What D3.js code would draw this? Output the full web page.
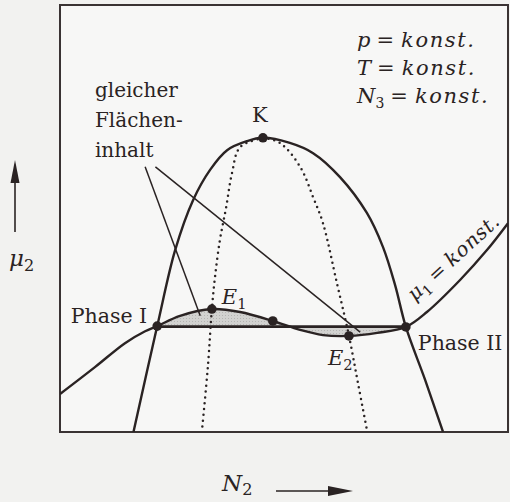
<!DOCTYPE html>
<html>
<head>
<meta charset="utf-8">
<script src="https://cdn.jsdelivr.net/npm/d3@7"></script>
<style>
  html, body { margin: 0; padding: 0; background: #f2f2f0; }
  svg { display: block; }
</style>
</head>
<body>
<svg id="chart" width="510" height="502"></svg>
<script>
// Phase diagram of a ternary system at fixed p, T and N3:
// chemical potential mu2 against mole number N2 (dimensionless units 0..10).

// Binodal (coexistence curve) through the critical point K
const binodal = [
  [1.64, 0.00], [2.17, 2.48], [2.57, 4.26], [2.97, 5.43], [3.35, 6.14],
  [3.73, 6.60], [4.17, 6.81], [4.53, 6.89], [5.13, 6.77], [5.65, 6.53],
  [6.25, 5.97], [6.85, 5.13], [7.21, 4.33], [7.48, 3.44], [7.72, 2.46],
  [8.15, 1.22], [8.55, 0.00]
];

// Spinodal branches (dotted), meeting at K
const spinodalLeft = [
  [4.53, 6.89], [4.02, 6.67], [3.84, 6.07], [3.71, 5.27], [3.57, 4.50],
  [3.46, 3.63], [3.39, 2.88], [3.30, 1.52], [3.17, 0.05]
];
const spinodalRight = [
  [4.53, 6.89], [4.91, 6.77], [5.36, 6.21], [5.65, 5.50], [5.87, 4.89],
  [6.18, 3.49], [6.45, 2.25], [6.65, 1.15], [6.85, 0.05]
];

// Isotherm mu1 = const. with its van-der-Waals loop
const mu1Curve = [
  [0.00, 0.89], [0.78, 1.52], [1.45, 2.08], [1.90, 2.36], [2.17, 2.48],
  [2.68, 2.72], [3.39, 2.88], [4.02, 2.81], [4.75, 2.60], [5.36, 2.39],
  [5.87, 2.27], [6.45, 2.25], [7.08, 2.32], [7.72, 2.46], [8.19, 2.81],
  [8.93, 3.56], [9.53, 4.26], [10.0, 4.89]
];
// Indices of the coexisting phases on mu1Curve
const phaseIdx = [4, 13];

// Marked points
const pointNames = ["Phase I", "E1", "mid", "E2", "Phase II", "K"];
const points = [
  [2.17, 2.48], [3.39, 2.88], [4.75, 2.60], [6.45, 2.25], [7.72, 2.46], [4.53, 6.89]
];
// Equal-area tie line level
const tieLevel = 2.47;

// Pointer lines from the "gleicher Flächeninhalt" note into the two lobes
const pointers = [
  [[1.90, 6.21], [3.13, 2.72]],
  [[2.13, 6.21], [6.70, 2.34]]
];

const noteLines = ["gleicher", "Flächen-", "inhalt"];
const condLines = [["p", null], ["T", null], ["N", "3"]];

const ink = "#2a2323";
const svg = d3.select("#chart");
const frame = { left: 60, right: 508, top: 5, bottom: 432 };

const x = d3.scaleLinear().domain([0, 10]).range([frame.left, frame.right]);
const y = d3.scaleLinear().domain([0, 10]).range([frame.bottom, frame.top]);

const line = d3.line().x(d => x(d[0])).y(d => y(d[1])).curve(d3.curveCatmullRom.alpha(0.5));

// frame
svg.append("rect")
  .attr("x", frame.left).attr("y", frame.top)
  .attr("width", frame.right - frame.left).attr("height", frame.bottom - frame.top)
  .attr("fill", "#f7f7f6").attr("stroke", "#3a3333").attr("stroke-width", 2);

const defs = svg.append("defs");
defs.append("clipPath").attr("id", "plotClip")
  .append("rect").attr("x", frame.left).attr("y", frame.top)
  .attr("width", frame.right - frame.left).attr("height", frame.bottom - frame.top);

const g = svg.append("g").attr("clip-path", "url(#plotClip)");

// shaded equal areas between loop and tie line
const loop = mu1Curve.slice(phaseIdx[0], phaseIdx[1] + 1);
const area = d3.area()
  .x(d => x(d[0])).y0(y(tieLevel)).y1(d => y(d[1]))
  .curve(d3.curveCatmullRom.alpha(0.5));
const pat = defs.append("pattern").attr("id", "stipple")
  .attr("width", 3).attr("height", 3).attr("patternUnits", "userSpaceOnUse");
pat.append("rect").attr("width", 3).attr("height", 3).attr("fill", "#d2d2d0");
pat.append("rect").attr("width", 1).attr("height", 1).attr("fill", "#b4b4b2");
g.append("path").attr("d", area(loop)).attr("fill", "url(#stipple)");

// spinodals
[spinodalLeft, spinodalRight].forEach(s => {
  g.append("path").attr("d", line(s))
    .attr("fill", "none").attr("stroke", ink).attr("stroke-width", 2.5)
    .attr("stroke-linecap", "round").attr("stroke-dasharray", "0 5.8");
});

// binodal
g.append("path").attr("d", line(binodal))
  .attr("fill", "none").attr("stroke", ink).attr("stroke-width", 2.4);

// mu1 isotherm
g.append("path").attr("d", line(mu1Curve))
  .attr("fill", "none").attr("stroke", ink).attr("stroke-width", 2.4);

// tie line
g.append("line")
  .attr("x1", x(points[0][0])).attr("x2", x(points[4][0]))
  .attr("y1", y(tieLevel)).attr("y2", y(tieLevel))
  .attr("stroke", ink).attr("stroke-width", 2.8);

// pointer lines
pointers.forEach(p => {
  g.append("line")
    .attr("x1", x(p[0][0])).attr("y1", y(p[0][1]))
    .attr("x2", x(p[1][0])).attr("y2", y(p[1][1]))
    .attr("stroke", ink).attr("stroke-width", 1.5);
});

// dots
g.selectAll("circle.pt").data(points).join("circle")
  .attr("class", "pt")
  .attr("cx", d => x(d[0])).attr("cy", d => y(d[1])).attr("r", 4.8)
  .attr("fill", ink);

// ----- text -----
const serif = "'DejaVu Serif', serif";
const mathFont = "'DejaVu Serif', serif";
const txt = (px, py, s, size, anchor) => svg.append("text")
  .attr("x", px).attr("y", py).attr("font-family", serif)
  .attr("font-size", size).attr("fill", ink)
  .attr("text-anchor", anchor || "start").text(s);

// note
noteLines.forEach((s, i) => txt(x(0.78), y(7.85) + i * 30, s, 20));

// K
txt(x(points[5][0]) - 3, y(points[5][1]) - 16, "K", 21, "middle");

// phase labels
txt(x(points[0][0]) - 10, y(points[0][1]) - 3, "Phase I", 20.5, "end");
txt(x(points[4][0]) + 12, y(points[4][1]) + 23, "Phase II", 20.5);

// italic symbol with subscript
function sub(px, py, base, idx, size, drop) {
  const t = svg.append("text").attr("x", px).attr("y", py)
    .attr("font-family", mathFont).attr("font-size", size).attr("fill", ink);
  t.append("tspan").attr("font-style", "italic").text(base);
  t.append("tspan").attr("font-size", size * 0.7).attr("dy", drop || 5).text(idx);
  return t;
}
sub(x(points[1][0]) + 10, y(points[1][1]) - 5, "E", "1", 21);
sub(x(points[3][0]) - 21, y(points[3][1]) + 29, "E", "2", 21);

// conditions block
condLines.forEach((c, i) => {
  const t = svg.append("text").attr("x", 357).attr("y", 47 + i * 28)
    .attr("font-family", mathFont).attr("font-size", 21).attr("fill", ink);
  t.append("tspan").attr("font-style", "italic").text(c[0]);
  if (c[1]) t.append("tspan").attr("font-size", 14).attr("dy", 5).text(c[1]);
  t.append("tspan").attr("dy", c[1] ? -5 : 0).attr("dx", 6).text("=");
  t.append("tspan").attr("dx", 7).attr("font-style", "italic")
    .attr("letter-spacing", 1.6).text("konst.");
});

// mu1 = konst. along the isotherm
{
  const t = svg.append("text")
    .attr("transform", `translate(${x(7.92)},${y(3.05)}) rotate(-42.5)`)
    .attr("font-family", mathFont).attr("font-size", 20).attr("fill", ink);
  t.append("tspan").attr("font-style", "italic").text("μ");
  t.append("tspan").attr("font-size", 14).attr("dy", 5).text("1");
  t.append("tspan").attr("dy", -5).attr("dx", 6).text("=");
  t.append("tspan").attr("dx", 6).attr("font-style", "italic")
    .attr("letter-spacing", 0.8).text("konst.");
}

// y axis: arrow and mu2
svg.append("line").attr("x1", 15).attr("y1", 232).attr("x2", 15).attr("y2", 170)
  .attr("stroke", ink).attr("stroke-width", 1.6);
svg.append("path").attr("d", "M15,160 L19.5,183 L10.5,183 Z").attr("fill", ink);
sub(9, 266, "μ", "2", 23);

// x axis: N2 and arrow
sub(222, 491, "N", "2", 23, 4);
svg.append("line").attr("x1", 276).attr("y1", 491).attr("x2", 340).attr("y2", 491)
  .attr("stroke", ink).attr("stroke-width", 1.6);
svg.append("path").attr("d", "M353,491 L328,486 L328,496 Z").attr("fill", ink);
</script>
</body>
</html>
